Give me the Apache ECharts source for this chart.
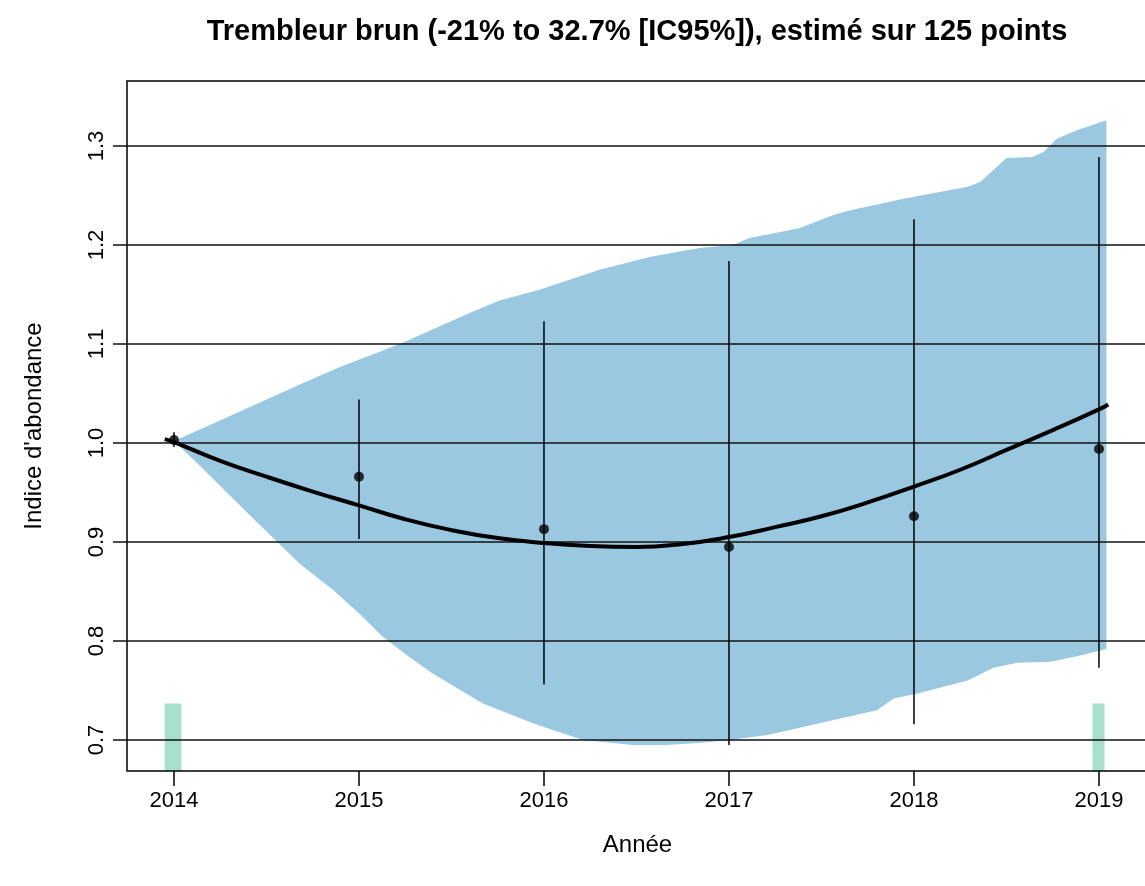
<!DOCTYPE html>
<html>
<head>
<meta charset="utf-8">
<title>Trembleur brun</title>
<script src="https://cdn.jsdelivr.net/npm/echarts@6/dist/echarts.min.js"></script>
<style>
  html, body { margin: 0; padding: 0; background: #ffffff; }
  #chart { width: 1145px; height: 886px; }
</style>
</head>
<body>
<div id="chart"></div>
<script>
// Yearly abundance index with its 95% interval
const years = [2014, 2015, 2016, 2017, 2018, 2019];
const indexValues = [1.003, 0.966, 0.913, 0.895, 0.926, 0.994];
const ciLow = [0.996, 0.903, 0.756, 0.695, 0.716, 0.773];
const ciHigh = [1.011, 1.044, 1.123, 1.184, 1.226, 1.289];

// Smoothed trend
const trendYears = [2013.95, 2014, 2014.25, 2014.5, 2014.75, 2015, 2015.25, 2015.5, 2015.75,
  2016, 2016.25, 2016.5, 2016.75, 2017, 2017.25, 2017.5, 2017.75, 2018, 2018.25,
  2018.5, 2018.75, 2019, 2019.05];
const trendValues = [1.004, 1.001, 0.982, 0.966, 0.951, 0.937, 0.923, 0.912, 0.904,
  0.899, 0.896, 0.895, 0.898, 0.905, 0.915, 0.926, 0.940, 0.956, 0.973,
  0.993, 1.013, 1.034, 1.039];

// Confidence envelope of the trend: upper and lower edges
const bandUpperYears = [2014.0, 2014.36, 2014.68, 2014.9, 2015.22, 2015.62, 2015.76, 2015.98,
  2016.3, 2016.57, 2016.84, 2017.02, 2017.11, 2017.38, 2017.56, 2017.65, 2017.95,
  2018.29, 2018.36, 2018.5, 2018.64, 2018.7, 2018.77, 2018.88, 2019.04];
const bandUpperValues = [1.002, 1.032, 1.059, 1.077, 1.100, 1.133, 1.144, 1.155,
  1.175, 1.188, 1.197, 1.200, 1.207, 1.217, 1.230, 1.235, 1.247,
  1.259, 1.264, 1.288, 1.289, 1.294, 1.307, 1.316, 1.326];
const bandLowerYears = [2014.0, 2014.14, 2014.41, 2014.68, 2014.86, 2015.0, 2015.13, 2015.27, 2015.4,
  2015.67, 2015.94, 2016.21, 2016.48, 2016.66, 2016.84, 2017.0, 2017.21, 2017.56, 2017.8,
  2017.89, 2018.02, 2018.29, 2018.43, 2018.56, 2018.74, 2018.91, 2019.04];
const bandLowerValues = [1.002, 0.977, 0.927, 0.878, 0.8515, 0.828, 0.804, 0.784, 0.767,
  0.737, 0.717, 0.700, 0.695, 0.695, 0.697, 0.700, 0.705, 0.720, 0.730,
  0.742, 0.747, 0.760, 0.773, 0.778, 0.779, 0.786, 0.792];

// Markers of the first and last survey years
const markerStart = [2013.95, 2018.965];
const markerEnd = [2014.04, 2019.03];
const markerTop = [0.737, 0.737];

// Axis ticks
const xTicks = [2014, 2015, 2016, 2017, 2018, 2019];
const yTicks = [0.7, 0.8, 0.9, 1.0, 1.1, 1.2, 1.3];

const X_MIN = 2013.746, X_MAX = 2019.265;
const Y_MIN = 0.6687, Y_MAX = 1.3657;
const FONT = '"Liberation Sans", Arial, Helvetica, sans-serif';
const BAND_BLUE = '#9ac8e1';
const MARKER_GREEN = '#a6dfca';

const chart = echarts.init(document.getElementById('chart'), null, { renderer: 'canvas' });

const bandPolygon = {
  type: 'custom',
  z: 1,
  silent: true,
  data: [[2016, 1]],
  renderItem: function (params, api) {
    const pts = [];
    for (let i = 0; i < bandUpperYears.length; i++) {
      pts.push(api.coord([bandUpperYears[i], bandUpperValues[i]]));
    }
    for (let i = bandLowerYears.length - 1; i >= 0; i--) {
      pts.push(api.coord([bandLowerYears[i], bandLowerValues[i]]));
    }
    return { type: 'polygon', shape: { points: pts }, style: { fill: BAND_BLUE } };
  }
};

const surveyMarkers = {
  type: 'custom',
  z: 1,
  silent: true,
  clip: true,
  data: markerStart.map((s, i) => [s, markerEnd[i], markerTop[i]]),
  encode: { x: [0, 1], y: 2 },
  renderItem: function (params, api) {
    const p0 = api.coord([api.value(0), api.value(2)]);
    const p1 = api.coord([api.value(1), Y_MIN]);
    return {
      type: 'rect',
      shape: { x: p0[0], y: p0[1], width: p1[0] - p0[0], height: p1[1] - p0[1] },
      style: { fill: MARKER_GREEN }
    };
  }
};

// Horizontal reference lines at each y tick, running through the tick marks
const refLines = {
  type: 'custom',
  z: 3,
  silent: true,
  clip: false,
  data: yTicks.map(v => [2016, v]),
  renderItem: function (params, api) {
    const cs = params.coordSys;
    const y = api.coord([2016, api.value(1)])[1];
    return {
      type: 'line',
      shape: { x1: cs.x - 14, y1: y, x2: cs.x + cs.width, y2: y },
      style: { stroke: '#111', lineWidth: 1.5 }
    };
  }
};

const errorBars = {
  type: 'custom',
  z: 4,
  silent: true,
  data: years.map((y, i) => [y, ciLow[i], ciHigh[i]]),
  encode: { x: 0, y: [1, 2] },
  renderItem: function (params, api) {
    const a = api.coord([api.value(0), api.value(1)]);
    const b = api.coord([api.value(0), api.value(2)]);
    return {
      type: 'line',
      shape: { x1: a[0], y1: a[1], x2: b[0], y2: b[1] },
      style: { stroke: '#000', lineWidth: 1.5 }
    };
  }
};

const option = {
  animation: false,
  backgroundColor: '#ffffff',
  textStyle: { fontFamily: FONT },
  title: {
    text: 'Trembleur brun (-21% to 32.7% [IC95%]), estimé sur 125 points',
    left: 632,
    top: 12,
    textAlign: 'center',
    textStyle: { fontFamily: FONT, fontWeight: 'bold', fontSize: 29, color: '#000' }
  },
  grid: {
    left: 127,
    top: 81,
    width: 1021,
    height: 690,
    outerBoundsMode: 'none',
    show: true,
    z: 3,
    borderColor: '#000',
    borderWidth: 1.5,
    backgroundColor: 'transparent'
  },
  xAxis: {
    type: 'value',
    min: X_MIN,
    max: X_MAX,
    name: 'Année',
    nameLocation: 'middle',
    nameGap: 62,
    nameTextStyle: { fontFamily: FONT, fontSize: 24, color: '#000' },
    axisLine: { show: false },
    splitLine: { show: false },
    axisTick: {
      show: true,
      length: 15,
      customValues: xTicks,
      lineStyle: { color: '#000', width: 1.5 }
    },
    axisLabel: {
      customValues: xTicks,
      margin: 19,
      fontFamily: FONT,
      fontSize: 22,
      color: '#000',
      formatter: v => String(Math.round(v))
    }
  },
  yAxis: {
    type: 'value',
    min: Y_MIN,
    max: Y_MAX,
    name: "Indice d'abondance",
    nameLocation: 'middle',
    nameGap: 81,
    nameRotate: 90,
    nameTextStyle: { fontFamily: FONT, fontSize: 24, color: '#000' },
    axisLine: { show: false },
    splitLine: { show: false },
    axisTick: { show: false },
    axisLabel: {
      customValues: yTicks,
      rotate: 90,
      margin: 19,
      fontFamily: FONT,
      fontSize: 22,
      color: '#000',
      formatter: v => v.toFixed(1)
    }
  },
  series: [
    bandPolygon,
    surveyMarkers,
    refLines,
    errorBars,
    {
      type: 'line',
      z: 5,
      silent: true,
      smooth: true,
      symbol: 'none',
      data: trendYears.map((y, i) => [y, trendValues[i]]),
      lineStyle: { color: '#000', width: 4 }
    },
    {
      type: 'scatter',
      z: 6,
      silent: true,
      symbol: 'circle',
      symbolSize: 10,
      data: years.map((y, i) => [y, indexValues[i]]),
      itemStyle: { color: '#000' }
    }
  ]
};

chart.setOption(option);
</script>
</body>
</html>
